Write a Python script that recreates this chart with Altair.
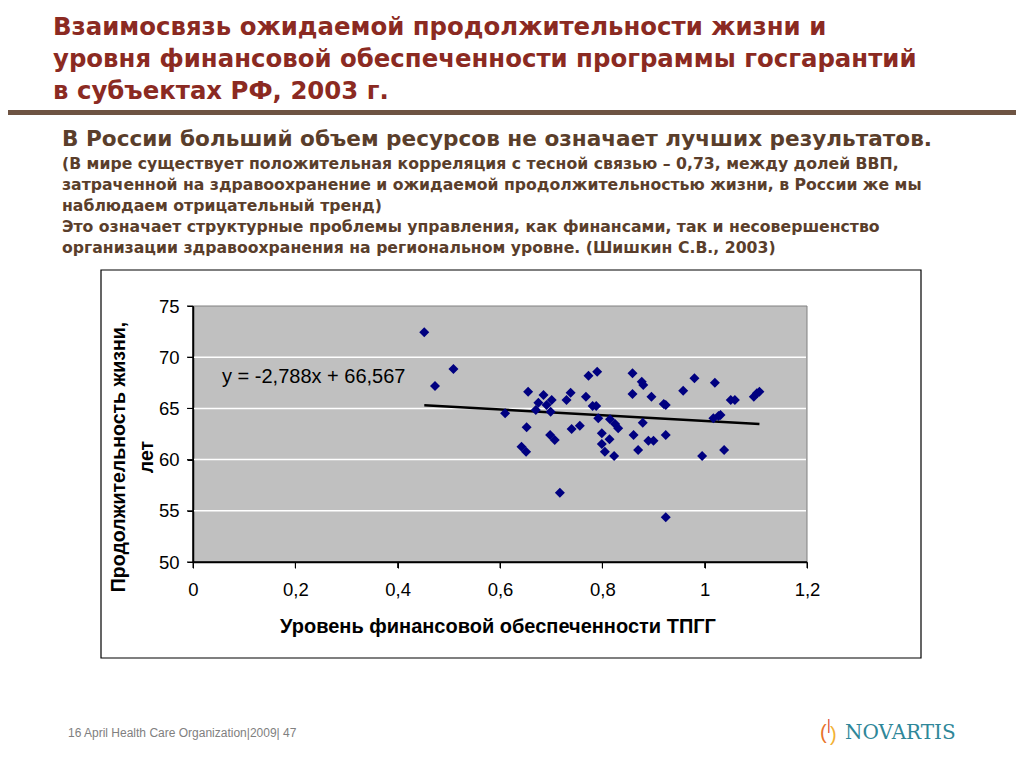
import altair as alt
import pandas as pd

# ---- data ----
x_vals = [0.452, 0.473, 0.509, 0.610, 0.655, 0.652, 0.642, 0.651, 0.670, 0.675,
          0.685, 0.691, 0.701, 0.699, 0.698, 0.707, 0.717, 0.730, 0.738, 0.740,
          0.756, 0.768, 0.773, 0.790, 0.781, 0.788, 0.792, 0.799, 0.799, 0.805,
          0.814, 0.815, 0.825, 0.831, 0.823, 0.859, 0.859, 0.861, 0.877, 0.880,
          0.879, 0.870, 0.890, 0.900, 0.896, 0.920, 0.924, 0.924, 0.924, 0.958,
          0.980, 0.995, 1.020, 1.017, 1.027, 1.031, 1.038, 1.051, 1.059, 1.096,
          1.102, 1.107]
y_vals = [72.43, 67.19, 68.85, 64.52, 66.63, 63.15, 61.26, 60.77, 64.84, 65.56,
          66.31, 65.33, 65.82, 64.68, 62.40, 61.91, 56.77, 65.82, 66.53, 62.99,
          63.31, 66.14, 68.19, 68.59, 65.23, 65.23, 64.03, 62.57, 61.52, 60.77,
          61.98, 63.93, 63.48, 63.06, 60.35, 68.43, 66.41, 62.40, 67.61, 67.29,
          63.61, 60.94, 61.85, 61.85, 66.14, 65.43, 65.33, 62.40, 54.37, 66.73,
          67.94, 60.35, 67.51, 64.03, 64.26, 64.36, 60.94, 65.82, 65.82, 66.14,
          66.47, 66.63]
slope = -2.788
intercept = 66.567
x_ticks = [0, 0.2, 0.4, 0.6, 0.8, 1.0, 1.2]
y_ticks = [50, 55, 60, 65, 70, 75]
grid_vals = [55, 60, 65, 70]

title_lines = ["Взаимосвязь ожидаемой продолжительности жизни и",
               "уровня финансовой обеспеченности программы госгарантий",
               "в субъектах РФ, 2003 г."]
subtitle = "В России больший объем ресурсов не означает лучших результатов."
note_lines = ["(В мире существует положительная корреляция с тесной связью – 0,73, между долей ВВП,",
              "затраченной на здравоохранение и ожидаемой продолжительностью жизни, в России же мы",
              "наблюдаем отрицательный тренд)",
              "Это означает структурные проблемы управления, как финансами, так и несовершенство",
              "организации здравоохранения на региональном уровне. (Шишкин С.В., 2003)"]
x_title = "Уровень финансовой обеспеченности ТПГГ"
y_title_1 = "Продолжительность жизни,"
y_title_2 = "лет"
equation = "y = -2,788x + 66,567"
footer = "16 April Health Care Organization|2009| 47"

W, H = 614, 256
FONT = "Liberation Sans, Arial, sans-serif"
TFONT = "DejaVu Sans, Verdana, sans-serif"

pts = pd.DataFrame({"x": x_vals, "y": y_vals})
xmin, xmax = min(x_vals), max(x_vals)
trend = pd.DataFrame({"x": [xmin, xmax],
                      "y": [slope * xmin + intercept, slope * xmax + intercept]})
one = pd.DataFrame({"k": [0]})

xs = alt.Scale(domain=[0, 1.2], nice=False, zero=False)
ys = alt.Scale(domain=[50, 75], nice=False, zero=False)

common = dict(grid=False, title=None, ticks=True, tickSize=6, tickColor="black", tickWidth=1,
              domain=True, domainColor="black", domainWidth=1.5, labelFlush=False,
              labelFontSize=18.5, labelFont=FONT, labelColor="black",
              labelExpr="replace(format(datum.value, '~g'), '.', ',')")
x_axis = alt.Axis(values=x_ticks, labelPadding=12, **common)
y_axis = alt.Axis(values=y_ticks, labelPadding=8, **common)

frame = alt.Chart(one).mark_rect(fill="white", fillOpacity=0, stroke="black",
                                 strokeWidth=1.2).encode(
    x=alt.value(-92), x2=alt.value(728), y=alt.value(-36), y2=alt.value(352))
border_top = alt.Chart(one).mark_rule(color="#808080", strokeWidth=1).encode(
    x=alt.value(0), x2=alt.value(W), y=alt.value(0))
border_right = alt.Chart(one).mark_rule(color="#808080", strokeWidth=1).encode(
    x=alt.value(W), y=alt.value(0), y2=alt.value(H))
grid = alt.Chart(pd.DataFrame({"g": grid_vals})).mark_rule(color="white", strokeWidth=1.5).encode(
    y=alt.Y("g:Q", scale=ys, axis=y_axis), x=alt.value(1), x2=alt.value(W - 1))
ytick_marks = alt.Chart(pd.DataFrame({"t": y_ticks})).mark_rule(color="black", strokeWidth=1).encode(
    y=alt.Y("t:Q", scale=ys, axis=y_axis), x=alt.value(-6), x2=alt.value(0))
xtick_marks = alt.Chart(pd.DataFrame({"t": x_ticks})).mark_rule(color="black", strokeWidth=1).encode(
    x=alt.X("t:Q", scale=xs, axis=x_axis), y=alt.value(H), y2=alt.value(H + 6))
dom_left = alt.Chart(one).mark_rule(color="black", strokeWidth=1.5).encode(
    x=alt.value(0), y=alt.value(0), y2=alt.value(H))
dom_bottom = alt.Chart(one).mark_rule(color="black", strokeWidth=1.5).encode(
    x=alt.value(0), x2=alt.value(W), y=alt.value(H))
line = alt.Chart(trend).mark_line(color="black", strokeWidth=2.5).encode(
    x=alt.X("x:Q", scale=xs, axis=x_axis), y=alt.Y("y:Q", scale=ys, axis=y_axis))
points = alt.Chart(pts).mark_point(shape="diamond", filled=True, color="#000080",
                                   size=100, opacity=1).encode(
    x=alt.X("x:Q", scale=xs, axis=x_axis), y=alt.Y("y:Q", scale=ys, axis=y_axis))

def txt(s, x, y, size, color="black", weight="normal", font=FONT, align="left", angle=0):
    kw = dict(text=s, fontSize=size, color=color, fontWeight=weight, font=font,
              align=align, baseline="middle")
    if angle:
        kw["angle"] = angle
    return alt.Chart(one).mark_text(**kw).encode(x=alt.value(x), y=alt.value(y))

texts = []
for i, t in enumerate(title_lines):
    texts.append(txt(t, -140, -278 + 32 * i, 24.4, color="#8B2A22", weight="bold", font=TFONT))
rule_top = alt.Chart(one).mark_rect(fill="#6E5443").encode(
    x=alt.value(-190), x2=alt.value(830), y=alt.value(-196), y2=alt.value(-191))
texts.append(txt(subtitle, -131, -166, 21.6, color="#5A3E2B", weight="bold", font=TFONT))
for i, t in enumerate(note_lines):
    texts.append(txt(t, -131, -142 + 21 * i, 15.7, color="#5A3E2B", weight="bold", font=TFONT))
texts.append(txt(equation, 29, 71, 20))
texts.append(txt(x_title, 305, 321, 20, weight="bold", align="center"))
texts.append(txt(y_title_1, -74, 151, 19.5, weight="bold", align="center", angle=270))
texts.append(txt(y_title_2, -46, 151, 19.5, weight="bold", align="center", angle=270))
texts.append(txt(footer, -125, 427, 12, color="#808080"))
texts.append(txt("NOVARTIS", 652, 427, 20, color="#2F8799", font="DejaVu Serif, serif"))
texts.append(txt("(", 627, 427, 20, color="#E8732A", font=FONT))
texts.append(txt(")", 637, 429, 20, color="#F2B134", font=FONT))
texts.append(txt("|", 634, 420, 14, color="#D9452B", font=FONT))

chart = alt.layer(frame, border_top, border_right, grid, ytick_marks, xtick_marks,
                  dom_left, dom_bottom, line, points, rule_top, *texts).properties(
    width=W, height=H,
    autosize=alt.AutoSizeParams(type="none"),
    padding={"left": 185, "top": 298, "right": 209, "bottom": 190},
    background="white",
).configure_view(fill="#C0C0C0", stroke=None)

chart.save("out.html", embed_options={"renderer": "svg", "actions": False})
